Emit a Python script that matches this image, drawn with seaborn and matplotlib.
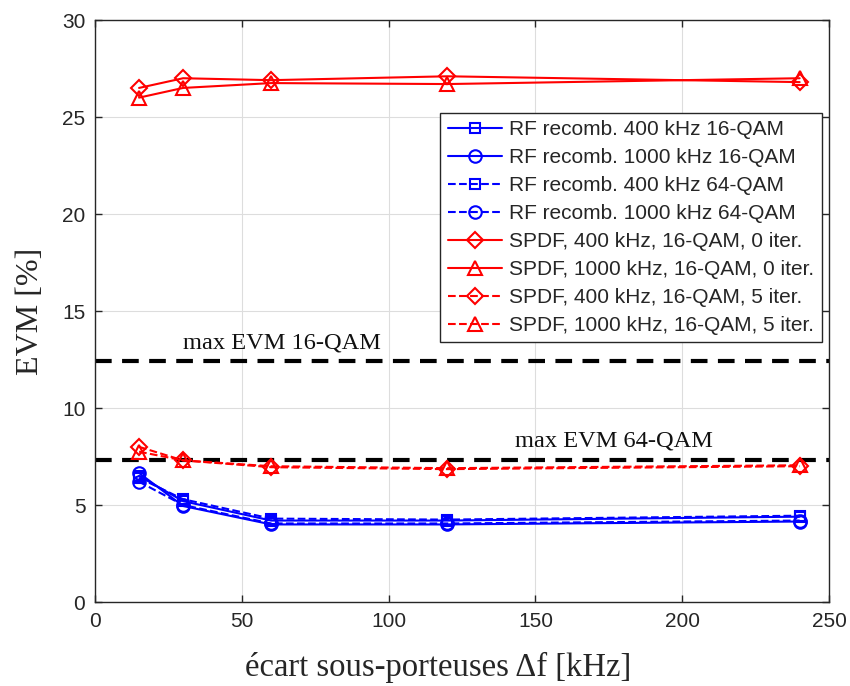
import numpy as np
import pandas as pd
import matplotlib
matplotlib.use("Agg")
import matplotlib.pyplot as plt
import seaborn as sns

# Data
spacing_khz = [15, 30, 60, 120, 240]
rf_400_16 = [6.5, 5.2, 4.2, 4.2, 4.4]
rf_1000_16 = [6.65, 4.95, 4.0, 4.0, 4.15]
rf_400_64 = [6.4, 5.3, 4.3, 4.25, 4.45]
rf_1000_64 = [6.2, 5.0, 4.05, 4.05, 4.2]
spdf_400_16_0 = [26.5, 27.0, 26.9, 27.1, 26.8]
spdf_1000_16_0 = [26.0, 26.5, 26.75, 26.7, 27.0]
spdf_400_16_5 = [8.0, 7.3, 6.95, 6.85, 7.0]
spdf_1000_16_5 = [7.75, 7.3, 7.0, 6.9, 7.05]
max_evm_16 = 12.4
max_evm_64 = 7.3

series_labels = [
    "RF recomb. 400 kHz 16-QAM",
    "RF recomb. 1000 kHz 16-QAM",
    "RF recomb. 400 kHz 64-QAM",
    "RF recomb. 1000 kHz 64-QAM",
    "SPDF, 400 kHz, 16-QAM, 0 iter.",
    "SPDF, 1000 kHz, 16-QAM, 0 iter.",
    "SPDF, 400 kHz, 16-QAM, 5 iter.",
    "SPDF, 1000 kHz, 16-QAM, 5 iter.",
]
series_values = [rf_400_16, rf_1000_16, rf_400_64, rf_1000_64,
                 spdf_400_16_0, spdf_1000_16_0, spdf_400_16_5, spdf_1000_16_5]
styles = [
    ("#0000ff", "-", "s"), ("#0000ff", "-", "o"),
    ("#0000ff", "--", "s"), ("#0000ff", "--", "o"),
    ("#ff0000", "-", "D"), ("#ff0000", "-", "^"),
    ("#ff0000", "--", "D"), ("#ff0000", "--", "^"),
]
marker_sizes = {"s": 7.5, "o": 9, "D": 8.5, "^": 10}

sns.set_theme(style="white")
plt.rcParams['font.family'] = ['Liberation Sans', 'DejaVu Sans']

fig = plt.figure(figsize=(8.5, 6.86), dpi=100)
ax = fig.add_axes([0.1118, 0.1224, 0.8635, 0.8484])

for lab, vals, (c, ls, mk) in zip(series_labels, series_values, styles):
    df = pd.DataFrame({"x": spacing_khz, "y": vals})
    sns.lineplot(data=df, x="x", y="y", ax=ax, color=c, linestyle=ls,
                 marker=mk, markersize=marker_sizes[mk], markerfacecolor="none",
                 markeredgecolor=c, markeredgewidth=1.5, linewidth=1.5,
                 label=lab)

ax.axhline(max_evm_16, color="black", linestyle=(0, (4, 2.5)), linewidth=3, zorder=1)
ax.axhline(max_evm_64, color="black", linestyle=(0, (4, 2.5)), linewidth=3, zorder=1)
ax.text(30, 13.05, "max EVM 16-QAM", family="Liberation Serif", fontsize=17.6, color="#111111")
ax.text(143, 8.0, "max EVM 64-QAM", family="Liberation Serif", fontsize=17.6, color="#111111")

ax.set_xlim(0, 250)
ax.set_ylim(0, 30)
ax.set_xticks([0, 50, 100, 150, 200, 250])
ax.set_yticks([0, 5, 10, 15, 20, 25, 30])
ax.grid(True, color="#dddddd", linewidth=0.8)
ax.set_axisbelow(True)
for s in ax.spines.values():
    s.set_visible(True)
    s.set_color("#262626")
    s.set_linewidth(1.0)
ax.tick_params(direction="in", length=5, width=1, labelsize=15, colors="#262626",
               top=True, right=True, bottom=True, left=True, pad=7)
ax.set_xlabel("écart sous-porteuses Δf [kHz]", family="Liberation Serif", fontsize=23.5, labelpad=15)
ax.set_ylabel("EVM [%]", family="Liberation Serif", fontsize=23, labelpad=12)
ax.xaxis.label.set_x(0.467)

leg = ax.legend(loc="upper right", bbox_to_anchor=(0.99, 0.84), fontsize=15,
                frameon=True, fancybox=False, edgecolor="#262626", framealpha=1,
                handlelength=2.6, labelspacing=0.43, borderpad=0.35, handletextpad=0.35,
                borderaxespad=0)
leg.get_frame().set_linewidth(1.0)

fig.savefig("out.png", dpi=100)
